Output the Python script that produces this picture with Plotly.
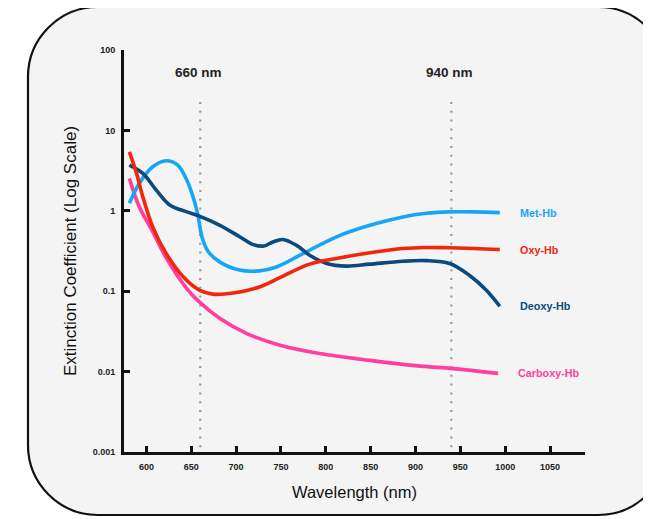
import plotly.graph_objects as go
import math

# ---------------- data ----------------
met_x = [581, 592, 607, 622, 635, 645, 652, 657, 662, 669, 682, 704, 726, 745, 775, 812, 849, 886, 912, 938, 966, 994]
met_y = [1.24, 2.19, 3.53, 4.19, 3.7, 2.41, 1.49, 0.93, 0.47, 0.31, 0.23, 0.183, 0.179, 0.2, 0.295, 0.475, 0.66, 0.84, 0.93, 0.97, 0.97, 0.95]

deoxy_x = [581, 596, 611, 626, 645, 659, 682, 704, 719, 731, 741, 752, 767, 782, 801, 823, 849, 886, 912, 938, 960, 979, 994]
deoxy_y = [3.7, 2.92, 1.81, 1.18, 0.97, 0.86, 0.66, 0.475, 0.38, 0.365, 0.41, 0.44, 0.374, 0.28, 0.221, 0.205, 0.217, 0.236, 0.24, 0.221, 0.158, 0.103, 0.065]

oxy_x = [581, 589, 596, 607, 622, 641, 659, 674, 697, 726, 750, 782, 812, 849, 886, 912, 938, 966, 994]
oxy_y = [5.42, 2.92, 1.49, 0.63, 0.295, 0.151, 0.103, 0.092, 0.095, 0.113, 0.15, 0.217, 0.255, 0.3, 0.34, 0.35, 0.347, 0.34, 0.33]

carboxy_x = [581, 592, 607, 622, 645, 659, 682, 712, 749, 793, 849, 905, 942, 992]
carboxy_y = [2.53, 1.12, 0.55, 0.26, 0.108, 0.0736, 0.0457, 0.0297, 0.0213, 0.0168, 0.0138, 0.0117, 0.0109, 0.0095]

series_names = ["Carboxy-Hb", "Met-Hb", "Deoxy-Hb", "Oxy-Hb"]
series_colors = ["#ff3ea0", "#17a6f6", "#0b4a7c", "#f2260d"]

marker_wavelengths = [660, 940]
marker_labels = ["660 nm", "940 nm"]

x_ticks = [600, 650, 700, 750, 800, 850, 900, 950, 1000, 1050]
y_ticks = [0.001, 0.01, 0.1, 1, 10, 100]
y_tick_labels = ["0.001", "0.01", "0.1", "1", "10", "100"]

# ---------------- figure ----------------
# the page body has an 8px margin, so the figure is laid out 8px smaller
OFF = 8
W, H = 651 - OFF, 519 - OFF
ML, MR, MT, MB = 124 - OFF, 66, 50 - OFF, 67
PW, PH = W - ML - MR, H - MT - MB
FONT = "Liberation Sans, Arial, Helvetica, sans-serif"

fig = go.Figure()

# rounded panel background (pixel positions in window coordinates -> paper)
def px(xp):
    return (xp - OFF - ML) / PW

def py(yp):
    return (H - MB - (yp - OFF)) / PH

x0, y0, x1, y1, r = 28, 7, 668, 515, 70
k = 0.5523 * r
pts = [
    ("M", [(x0 + r, y0)]),
    ("L", [(x1 - r, y0)]),
    ("C", [(x1 - r + k, y0), (x1, y0 + r - k), (x1, y0 + r)]),
    ("L", [(x1, y1 - r)]),
    ("C", [(x1, y1 - r + k), (x1 - r + k, y1), (x1 - r, y1)]),
    ("L", [(x0 + r, y1)]),
    ("C", [(x0 + r - k, y1), (x0, y1 - r + k), (x0, y1 - r)]),
    ("L", [(x0, y0 + r)]),
    ("C", [(x0, y0 + r - k), (x0 + r - k, y0), (x0 + r, y0)]),
]
path = ""
for cmd, ps in pts:
    path += cmd + " " + " ".join(f"{px(a):.5f},{py(b):.5f}" for a, b in ps) + " "
path += "Z"
fig.add_shape(type="path", xref="paper", yref="paper", path=path,
              fillcolor="#f4f4f4", line=dict(color="#111111", width=2.2), layer="below")

# dotted marker lines and their labels
for wl, lab in zip(marker_wavelengths, marker_labels):
    fig.add_shape(type="line", xref="x", yref="y domain", x0=wl, x1=wl, y0=0.012, y1=0.874,
                  line=dict(color="#9a9a9a", width=2.2, dash="2px,6.8px"), layer="below")
    fig.add_annotation(x=wl, y=0.943, xref="x", yref="y domain", text=lab, showarrow=False,
                       xanchor="center", yanchor="middle", xshift=-1.5,
                       font=dict(family=FONT, size=13.5, color="#222", weight="bold"))

xs = [carboxy_x, met_x, deoxy_x, oxy_x]
ys = [carboxy_y, met_y, deoxy_y, oxy_y]
for name, color, x, y in zip(series_names, series_colors, xs, ys):
    fig.add_trace(go.Scatter(
        x=x, y=y, name=name, mode="lines",
        line=dict(color=color, width=3.6, shape="spline", smoothing=1.0),
        hoverinfo="skip", showlegend=False,
    ))
    fig.add_annotation(
        x=x[-1] + 20, y=math.log10(y[-1]), xref="x", yref="y",
        text=name, showarrow=False, xanchor="left", yanchor="middle",
        font=dict(family=FONT, size=10.8, color=color, weight="bold"),
    )

fig.update_layout(
    width=W, height=H,
    margin=dict(l=ML, r=MR, t=MT, b=MB, autoexpand=False),
    paper_bgcolor="white", plot_bgcolor="rgba(0,0,0,0)",
    font=dict(family=FONT, color="#111"),
    showlegend=False,
)
fig.update_xaxes(
    range=[575, 1089], tickmode="array", tickvals=x_ticks,
    showgrid=False, zeroline=False,
    showline=True, linecolor="#111", linewidth=3,
    ticks="inside", ticklen=6, tickwidth=2.6, tickcolor="#111",
    tickfont=dict(family=FONT, size=9, color="#222", weight="bold"),
    ticklabelstandoff=4,
    title=dict(text="Wavelength (nm)", font=dict(family=FONT, size=16.5, color="#111"), standoff=16),
    automargin=False,
)
fig.update_yaxes(
    type="log", range=[-3, 2], tickmode="array", tickvals=y_ticks, ticktext=y_tick_labels,
    showgrid=False, zeroline=False,
    showline=True, linecolor="#111", linewidth=3,
    ticks="inside", ticklen=6, tickwidth=2.6, tickcolor="#111",
    tickfont=dict(family=FONT, size=9, color="#222", weight="bold"),
    ticklabelstandoff=4,
    title=dict(text="Extinction Coefficient (Log Scale)", font=dict(family=FONT, size=17, color="#111"), standoff=12),
    automargin=False,
)

fig.write_html("out.html")
